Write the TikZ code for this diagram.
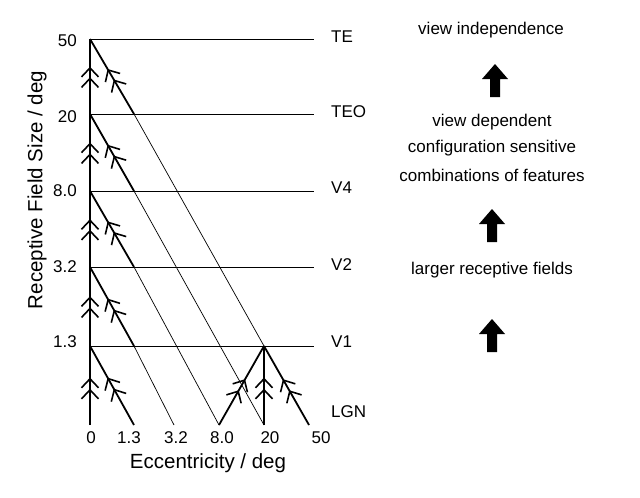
\documentclass[tikz,border=0pt]{standalone}
\usepackage{fontspec}
\setmainfont{Liberation Sans}
\usetikzlibrary{arrows.meta,decorations.markings}
\begin{document}
\begin{tikzpicture}[x=1pt,y=-1pt,
  lbl/.style={font=\fontsize{17}{20}\selectfont,inner sep=0pt},
  ttl/.style={font=\fontsize{20.5}{24}\selectfont,inner sep=0pt},
  lvl/.style={line width=0.7pt},
  thin/.style={line width=0.7pt},
  thick/.style={line width=1.8pt},
  dbl/.style={thick,postaction={decorate},decoration={markings,
     mark=at position #1 with {\arrow{Straight Barb[length=9pt,width=17pt,line width=1.6pt]}},
     mark=at position #1-0.14 with {\arrow{Straight Barb[length=9pt,width=17pt,line width=1.6pt]}}}}
]
\useasboundingbox (0,0) rectangle (640,498);
\coordinate (TE) at (90,39);
\coordinate (TEO) at (90,114);
\coordinate (V4) at (90,191);
\coordinate (V2) at (90,267);
\coordinate (V1) at (90,346);
\coordinate (O) at (90,425);
\coordinate (TEe) at (314,39);
\coordinate (TEOe) at (314,114);
\coordinate (V4e) at (314,191);
\coordinate (V2e) at (314,267);
\coordinate (V1e) at (314,346);
\coordinate (dTE) at (134,114);
\coordinate (dTEO) at (134,191);
\coordinate (dV4) at (134,267);
\coordinate (dV2) at (134,346);
\coordinate (dV1) at (134,425);
\coordinate (P) at (264,346);
\coordinate (b32) at (174,425);
\coordinate (b8) at (219,425);
\coordinate (b20) at (264,425);
\coordinate (b50) at (309,425);
\foreach \a/\b in {TE/TEe,TEO/TEOe,V4/V4e,V2/V2e,V1/V1e} \draw[lvl] (\a) -- (\b);
\draw[thin] (dTE) -- (P);
\draw[thin] (dTEO) -- (b20);
\draw[thin] (dV4) -- (b8);
\draw[thin] (dV2) -- (b32);
\draw[dbl=0.6] (O) -- (V1);
\draw[dbl=0.63] (V1) -- (V2);
\draw[dbl=0.63] (V2) -- (V4);
\draw[dbl=0.63] (V4) -- (TEO);
\draw[dbl=0.63] (TEO) -- (TE);
\draw[dbl=0.6] (dTE) -- (TE);
\draw[dbl=0.6] (dTEO) -- (TEO);
\draw[dbl=0.6] (dV4) -- (V4);
\draw[dbl=0.6] (dV2) -- (V2);
\draw[dbl=0.6] (dV1) -- (V1);
\draw[dbl=0.58] (b8) -- (P);
\draw[dbl=0.6] (b20) -- (P);
\draw[dbl=0.58] (b50) -- (P);
\node[lbl,anchor=east] (l50) at (77,41) {50};
\node[lbl,anchor=east] (l20) at (77,117) {20};
\node[lbl,anchor=east] (l8) at (77,191) {8.0};
\node[lbl,anchor=east] (l32) at (77,267) {3.2};
\node[lbl,anchor=east] (l13) at (77,342) {1.3};
\node[lbl] (x0) at (91,438) {0};
\node[lbl] (x13) at (129,438) {1.3};
\node[lbl] (x32) at (176,438) {3.2};
\node[lbl] (x8) at (222,438) {8.0};
\node[lbl] (x20) at (270,438) {20};
\node[lbl] (x50) at (321,438) {50};
\node[ttl] (xt) at (208,463) {Eccentricity / deg};
\node[ttl,rotate=90] (yt) at (37,190) {Receptive Field Size / deg};
\node[lbl,anchor=west] (nTE) at (331,37) {TE};
\node[lbl,anchor=west] (nTEO) at (331,112) {TEO};
\node[lbl,anchor=west] (nV4) at (331,188) {V4};
\node[lbl,anchor=west] (nV2) at (331,265) {V2};
\node[lbl,anchor=west] (nV1) at (331,342) {V1};
\node[lbl,anchor=west] (nLGN) at (331,412) {LGN};
\node[lbl] (t1) at (491,30) {view independence};
\node[lbl] (t2) at (492,122) {view dependent};
\node[lbl] (t3) at (492,148) {configuration sensitive};
\node[lbl] (t4) at (492,175) {combinations of features};
\node[lbl] (t5) at (492,270) {larger receptive fields};
\foreach \cx/\cy in {495/79, 492/224, 492/334}
  \fill (\cx-5,\cy+18) -- (\cx-5,\cy) -- (\cx-13,\cy) -- (\cx,\cy-15) -- (\cx+13,\cy) -- (\cx+5,\cy) -- (\cx+5,\cy+18) -- cycle;
\end{tikzpicture}
\end{document}
